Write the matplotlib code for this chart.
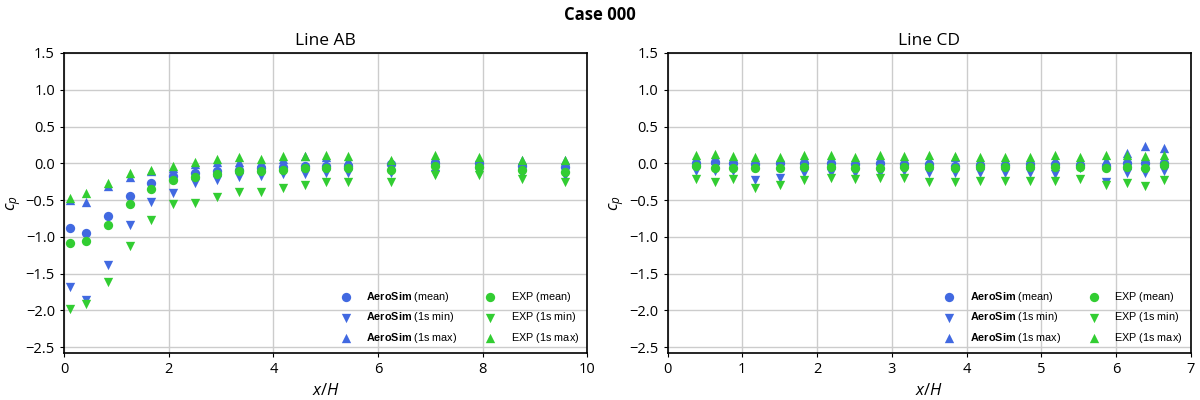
import numpy as np
import matplotlib
matplotlib.use("Agg")
import matplotlib.pyplot as plt

plt.rcParams["font.family"] = ["Open Sans", "DejaVu Sans"]
plt.rcParams["mathtext.fontset"] = "custom"
plt.rcParams["mathtext.default"] = "regular"
plt.rcParams["mathtext.it"] = "Open Sans:italic"
plt.rcParams["mathtext.rm"] = "Open Sans"
plt.rcParams["mathtext.bf"] = "Liberation Sans:bold"
plt.rcParams["axes.unicode_minus"] = True

BLUE = "#4169e1"
GREEN = "#32cd32"

# Line AB
ab_x = [0.12, 0.42, 0.84, 1.26, 1.67, 2.08, 2.5, 2.92, 3.34, 3.76, 4.18, 4.6, 5.0, 5.42,
        6.25, 7.08, 7.92, 8.75, 9.58]
ab_sim_mean = [-0.88, -0.95, -0.72, -0.44, -0.27, -0.17, -0.13, -0.10, -0.09, -0.07, -0.05,
               -0.04, -0.04, -0.04, -0.01, 0.0, 0.0, -0.03, -0.05]
ab_sim_min = [-1.68, -1.86, -1.38, -0.84, -0.52, -0.40, -0.27, -0.23, -0.19, -0.17, -0.15,
              -0.15, -0.13, -0.13, -0.13, -0.14, -0.12, -0.14, -0.17]
ab_sim_max = [-0.50, -0.52, -0.31, -0.19, -0.10, -0.06, -0.01, 0.02, 0.02, 0.02, 0.06,
              0.10, 0.08, 0.05, 0.03, 0.08, 0.05, 0.04, 0.05]
ab_exp_mean = [-1.08, -1.06, -0.84, -0.56, -0.35, -0.23, -0.18, -0.14, -0.10, -0.10, -0.09,
               -0.07, -0.06, -0.07, -0.09, -0.04, -0.05, -0.09, -0.12]
ab_exp_min = [-1.98, -1.91, -1.61, -1.12, -0.77, -0.56, -0.54, -0.46, -0.39, -0.39, -0.33,
              -0.30, -0.25, -0.25, -0.25, -0.16, -0.16, -0.21, -0.25]
ab_exp_max = [-0.47, -0.40, -0.27, -0.13, -0.09, -0.04, 0.02, 0.06, 0.08, 0.06, 0.10,
              0.10, 0.11, 0.10, 0.05, 0.11, 0.09, 0.05, 0.04]

# Line CD
cd_x = [0.38, 0.64, 0.87, 1.17, 1.51, 1.83, 2.18, 2.51, 2.84, 3.16, 3.50, 3.84, 4.18, 4.51,
        4.85, 5.18, 5.52, 5.86, 6.14, 6.39, 6.64]
cd_sim_mean = [0.0, 0.02, 0.0, -0.01, 0.0, 0.0, 0.0, -0.01, 0.0, -0.01, -0.01, -0.04, -0.02,
               -0.02, -0.01, -0.01, -0.02, -0.03, 0.0, 0.0, 0.0]
cd_sim_min = [-0.11, -0.11, -0.11, -0.23, -0.20, -0.13, -0.13, -0.13, -0.13, -0.11, -0.13,
              -0.13, -0.13, -0.13, -0.13, -0.15, -0.06, -0.25, -0.13, -0.13, -0.11]
cd_sim_max = [0.05, 0.05, 0.04, 0.04, 0.04, 0.05, 0.05, 0.05, 0.05, 0.05, 0.05, 0.08, 0.04,
              0.04, 0.05, 0.05, 0.04, 0.04, 0.14, 0.24, 0.21]
cd_exp_mean = [-0.04, -0.07, -0.07, -0.07, -0.06, -0.05, -0.05, -0.06, -0.07, -0.05, -0.05,
               -0.07, -0.05, -0.05, -0.05, -0.05, -0.05, -0.07, -0.05, -0.07, -0.02]
cd_exp_min = [-0.22, -0.26, -0.22, -0.34, -0.29, -0.23, -0.20, -0.22, -0.20, -0.20, -0.25,
              -0.25, -0.24, -0.24, -0.24, -0.24, -0.22, -0.29, -0.27, -0.31, -0.23]
cd_exp_max = [0.11, 0.12, 0.10, 0.09, 0.09, 0.11, 0.11, 0.09, 0.11, 0.10, 0.11, 0.10, 0.08,
              0.08, 0.09, 0.11, 0.09, 0.11, 0.11, 0.10, 0.11]

yticks = [-2.5, -2.0, -1.5, -1.0, -0.5, 0.0, 0.5, 1.0, 1.5]
stats = ["(mean)", "(1s min)", "(1s max)"]


def _panel(ax, title, x, sim, exp, xlim, xticks):
    s = 45
    for vals, m, st in zip(sim, ("o", "v", "^"), stats):
        ax.scatter(x, vals, s=s, marker=m, color=BLUE, linewidths=0,
                   label=r"$\bf{AeroSim}$ " + st, zorder=3)
    for vals, m, st in zip(exp, ("o", "v", "^"), stats):
        ax.scatter(x, vals, s=s, marker=m, color=GREEN, linewidths=0,
                   label=r"$\mathregular{EXP}$ " + st, zorder=3)
    ax.set_xlim(*xlim)
    ax.set_xticks(xticks)
    ax.set_ylim(-2.58, 1.5)
    ax.set_yticks(yticks)
    ax.set_yticklabels([f"{v:.1f}".replace("-", "\u2212") for v in yticks])
    ax.grid(color="#cccccc", linewidth=1)
    ax.set_axisbelow(True)
    for sp in ax.spines.values():
        sp.set_color("black")
        sp.set_linewidth(1.2)
    ax.tick_params(labelsize=10.5, length=3, color="black")
    ax.set_title(title, fontsize=12.5)
    ax.set_xlabel(r"$\it{x/H}$", fontsize=12)
    ax.set_ylabel(r"$\it{c_p}$", fontsize=12, labelpad=2)
    ax.legend(loc="lower right", ncol=2, frameon=False,
              prop={"family": "Liberation Sans", "size": 7.8}, handletextpad=0.9,
              columnspacing=2.0, labelspacing=0.6, borderaxespad=0.45, borderpad=0.3)


fig, (ax1, ax2) = plt.subplots(1, 2, figsize=(12, 4), dpi=100)
fig.subplots_adjust(left=0.0533, right=0.9925, top=0.8675, bottom=0.1175, wspace=0.153)
_panel(ax1, "Line AB", ab_x, (ab_sim_mean, ab_sim_min, ab_sim_max),
       (ab_exp_mean, ab_exp_min, ab_exp_max), (0, 10), [0, 2, 4, 6, 8, 10])
_panel(ax2, "Line CD", cd_x, (cd_sim_mean, cd_sim_min, cd_sim_max),
       (cd_exp_mean, cd_exp_min, cd_exp_max), (0, 7), list(range(8)))
fig.suptitle("Case 000", fontsize=12, fontweight="bold", y=0.985)
fig.savefig("out.png", dpi=100)
